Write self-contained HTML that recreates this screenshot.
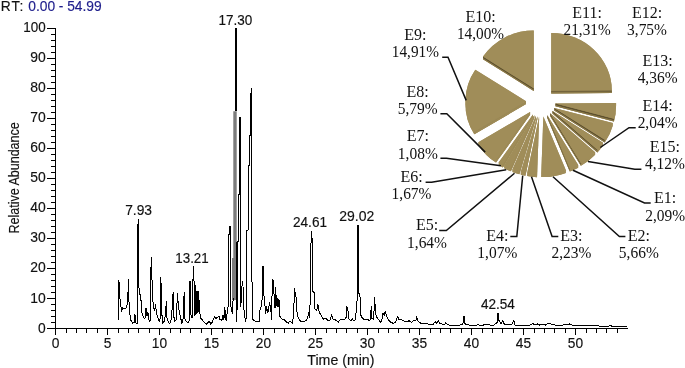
<!DOCTYPE html>
<html><head><meta charset="utf-8"><title>Chromatogram</title>
<style>
html,body{margin:0;padding:0;background:#fff;}
body{width:685px;height:368px;overflow:hidden;}
svg{display:block;}
.s{font-family:"Liberation Sans",sans-serif;font-size:13.8px;fill:#111;stroke:#111;stroke-width:0.15px;}
.t{font-family:"Liberation Serif",serif;font-size:16px;fill:#111;text-anchor:middle;}
</style></head><body>
<svg width="685" height="368" viewBox="0 0 685 368">
<rect width="685" height="368" fill="#fff"/>

<g stroke="#000" stroke-width="1" fill="none" shape-rendering="crispEdges">
<path d="M55.5,28 V328.5 H628"/>
<path d="M47,328.5 H55.5 M51,322.5 H55.5 M51,316.5 H55.5 M51,310.5 H55.5 M51,304.5 H55.5 M47,298.5 H55.5 M51,292.5 H55.5 M51,286.5 H55.5 M51,280.5 H55.5 M51,274.5 H55.5 M47,268.5 H55.5 M51,262.5 H55.5 M51,256.5 H55.5 M51,250.5 H55.5 M51,244.5 H55.5 M47,238.5 H55.5 M51,232.5 H55.5 M51,226.5 H55.5 M51,220.5 H55.5 M51,214.5 H55.5 M47,208.5 H55.5 M51,202.5 H55.5 M51,196.5 H55.5 M51,190.5 H55.5 M51,184.5 H55.5 M47,178.5 H55.5 M51,172.5 H55.5 M51,166.5 H55.5 M51,160.5 H55.5 M51,154.5 H55.5 M47,148.5 H55.5 M51,142.5 H55.5 M51,136.5 H55.5 M51,130.5 H55.5 M51,124.5 H55.5 M47,118.5 H55.5 M51,112.5 H55.5 M51,106.5 H55.5 M51,100.5 H55.5 M51,94.5 H55.5 M47,88.5 H55.5 M51,82.5 H55.5 M51,76.5 H55.5 M51,70.5 H55.5 M51,64.5 H55.5 M47,58.5 H55.5 M51,52.5 H55.5 M51,46.5 H55.5 M51,40.5 H55.5 M51,34.5 H55.5 M47,28.5 H55.5"/>
<path d="M55.5,328.5 V335 M66.5,328.5 V333 M76.5,328.5 V333 M86.5,328.5 V333 M97.5,328.5 V333 M107.5,328.5 V335 M118.5,328.5 V333 M128.5,328.5 V333 M138.5,328.5 V333 M149.5,328.5 V333 M159.5,328.5 V335 M170.5,328.5 V333 M180.5,328.5 V333 M190.5,328.5 V333 M201.5,328.5 V333 M211.5,328.5 V335 M222.5,328.5 V333 M232.5,328.5 V333 M242.5,328.5 V333 M253.5,328.5 V333 M263.5,328.5 V335 M274.5,328.5 V333 M284.5,328.5 V333 M294.5,328.5 V333 M305.5,328.5 V333 M315.5,328.5 V335 M326.5,328.5 V333 M336.5,328.5 V333 M346.5,328.5 V333 M357.5,328.5 V333 M367.5,328.5 V335 M378.5,328.5 V333 M388.5,328.5 V333 M398.5,328.5 V333 M409.5,328.5 V333 M419.5,328.5 V335 M430.5,328.5 V333 M440.5,328.5 V333 M450.5,328.5 V333 M461.5,328.5 V333 M471.5,328.5 V335 M482.5,328.5 V333 M492.5,328.5 V333 M502.5,328.5 V333 M513.5,328.5 V333 M523.5,328.5 V335 M534.5,328.5 V333 M544.5,328.5 V333 M554.5,328.5 V333 M565.5,328.5 V333 M575.5,328.5 V335 M586.5,328.5 V333 M596.5,328.5 V333 M606.5,328.5 V333 M617.5,328.5 V333"/>
</g>
<path d="M233.3,111.3 H236.7 V300 H232 V258 H233.3 Z" fill="#7c7c7c"/>
<g fill="none" stroke="#000" stroke-width="1" stroke-linejoin="miter" shape-rendering="crispEdges">
<polyline points="118.9,320.2 118.9,280.0 119.8,297.5 120.8,303.8 121.4,312.0 122.7,307.6 124.5,308.9 126.4,307.6 127.7,302.6 128.4,279.0 128.9,300.0 129.6,312.0 130.8,320.2 132.7,323.3 134.0,322.7 135.0,314.5 135.6,322.7 136.9,323.9 137.7,321.4 137.5,225.0 138.4,224.0 138.5,218.6 138.6,285.0 139.6,292.5 140.9,298.8 141.8,312.6 143.4,317.0 144.9,318.9 146.1,307.6 146.9,316.4 147.8,312.0 149.0,320.0 150.0,321.4 151.2,257.0 152.4,291.3 153.4,308.2 154.7,310.0 155.6,303.8 156.2,312.0 157.8,317.6 159.1,321.4 160.1,318.9 160.9,277.0 161.3,297.5 162.2,320.0 162.8,322.7 164.7,320.8 165.7,310.0 166.4,301.3 167.0,317.6 168.5,322.7 169.7,323.9 171.0,320.0 172.0,310.0 173.1,292.5 173.8,316.4 174.8,321.4 176.0,320.0 176.7,310.0 177.5,293.2 178.5,307.6 179.8,313.9 181.7,322.7 182.9,321.4 184.2,292.5 185.0,318.9 186.7,322.0 188.6,322.7 189.4,318.9 190.0,280.8 191.1,318.0 192.5,317.2 193.2,266.0 194.1,282.4 194.6,316.0 195.1,285.0 195.6,315.0 196.1,290.7 196.6,314.0 197.1,290.7 197.6,313.0 198.1,290.7 198.5,312.0 198.9,296.5 199.3,311.0 199.9,313.0 200.7,318.0 202.4,319.7 204.0,322.2 206.5,323.9 208.2,322.2 209.5,321.4 210.7,323.9 212.3,322.2 213.5,318.9 214.8,316.4 216.2,318.9 217.3,317.2 219.0,316.4 220.1,319.7 221.8,320.5 223.1,314.7 223.9,319.7 224.8,307.3 225.6,318.0 226.4,321.4 227.3,309.8 228.2,306.5 228.2,234.6 229.5,234.6 229.5,226.4 230.5,226.4 230.5,306.5 231.4,308.0 232.2,313.7 233.1,300.0 233.5,298.0"/>
<polyline points="235.5,111.3 235.5,28.9 236.5,28.9 236.5,111.3"/>
<polyline points="236.5,242.0 236.5,321.5 237.5,300.0 237.5,242.0 238.5,241.0 238.5,194.5 239.5,194.5 239.5,117.5 240.5,117.5 240.5,306.5 241.5,300.0 242.2,281.0 243.0,286.0 243.4,301.3 244.4,315.8 246.0,321.5 247.0,230.5 248.5,229.5 248.5,165.8 249.5,165.8 249.5,135.0 250.5,135.0 250.5,93.0 251.5,93.0 251.5,87.8 251.6,200.0 252.2,318.9 254.7,320.9 257.3,322.0 259.2,321.5 259.6,311.6 260.9,307.5 262.5,296.2 263.0,265.9 264.0,296.2 265.1,306.5 265.6,313.7 266.6,306.5 267.7,313.2 268.7,308.6 269.5,302.4 270.8,309.6 271.6,319.9 272.3,278.8 273.6,282.0 274.2,300.0 275.0,308.3 275.8,287.5 276.3,306.0 276.8,296.0 277.3,306.5 277.8,298.0 278.3,306.5 278.8,299.0 279.3,306.0 279.7,300.0 280.0,316.6 282.5,319.9 284.1,319.1 285.8,321.6 288.3,323.3 290.0,320.8 292.5,323.3 293.6,313.3 294.6,288.3 295.3,295.0 295.9,294.1 296.6,310.0 298.3,318.3 300.8,321.6 304.1,321.6 306.6,320.0 308.3,315.0 309.1,311.6 309.6,318.3 310.5,290.0 310.6,244.0 311.4,242.0 311.5,230.7 312.4,243.0 312.5,285.0 312.9,291.6 314.1,292.5 314.6,308.3 316.6,310.8 317.9,304.1 319.1,311.6 320.8,315.0 323.3,319.1 325.7,318.3 327.4,320.0 329.9,320.0 331.6,315.0 332.9,319.1 335.7,320.0 338.2,322.4 340.7,319.1 343.2,320.0 344.9,319.1 346.2,317.4 346.9,307.4 347.9,309.1 348.5,318.3 350.7,320.8 352.4,319.1 354.0,320.8 355.7,319.1 356.5,303.3 357.4,300.0 357.5,225.2 358.4,226.0 358.5,293.0 359.9,294.1 360.7,314.9 362.4,318.3 364.9,320.0 367.4,319.1 369.5,320.8 370.7,318.3 371.2,305.8 372.0,318.3 373.2,319.1 374.0,311.6 374.5,297.5 375.3,308.3 376.2,316.6 378.2,319.1 380.7,322.4 382.3,318.3 383.0,313.3 384.2,315.0 385.3,310.8 386.7,316.6 388.3,320.0 390.8,322.4 393.3,323.3 395.8,322.4 396.6,318.3 398.0,316.6 399.1,320.0 400.8,319.1 403.3,320.8 406.6,321.6 409.1,320.8 411.3,322.4 413.3,320.8 415.8,320.8 416.6,317.5 417.9,320.8 420.8,323.3 426.6,323.3 428.3,324.1 433.3,324.1 435.3,321.6 436.6,323.3 438.2,320.8 439.9,323.3 444.1,324.9 445.7,322.9 447.4,324.1 449.1,325.3 459.9,325.3 461.5,324.1 462.9,324.5 463.4,316.0 464.3,316.0 464.6,323.3 466.5,324.9 476.5,325.3 478.2,324.6 479.9,325.3 484.8,324.9 486.5,324.1 488.2,324.9 494.0,325.3 495.2,323.9 497.2,322.5 497.5,313.0 498.4,313.0 498.6,320.0 499.6,321.5 501.0,323.9 502.9,320.8 504.5,324.6 511.5,324.6 512.7,322.7 513.9,320.4 515.0,325.0 530.2,325.0 532.6,323.4 534.9,325.0 537.2,323.9 539.6,325.0 541.9,324.1 545.4,325.0 547.7,323.4 551.2,324.1 554.7,325.0 562.9,325.0 565.3,324.1 567.6,324.6 569.9,323.9 572.3,325.0 596.8,325.0 599.1,326.2 608.5,326.2 610.3,325.5 612.0,326.2 627.0,326.2"/>
</g>
<text class="s" x="45.7" y="332.5" text-anchor="end">0</text>
<text class="s" x="45.7" y="302.5" text-anchor="end" textLength="15.5" lengthAdjust="spacingAndGlyphs">10</text>
<text class="s" x="45.7" y="272.4" text-anchor="end" textLength="15.5" lengthAdjust="spacingAndGlyphs">20</text>
<text class="s" x="45.7" y="242.4" text-anchor="end" textLength="15.5" lengthAdjust="spacingAndGlyphs">30</text>
<text class="s" x="45.7" y="212.3" text-anchor="end" textLength="15.5" lengthAdjust="spacingAndGlyphs">40</text>
<text class="s" x="45.7" y="182.3" text-anchor="end" textLength="15.5" lengthAdjust="spacingAndGlyphs">50</text>
<text class="s" x="45.7" y="152.3" text-anchor="end" textLength="15.5" lengthAdjust="spacingAndGlyphs">60</text>
<text class="s" x="45.7" y="122.2" text-anchor="end" textLength="15.5" lengthAdjust="spacingAndGlyphs">70</text>
<text class="s" x="45.7" y="92.2" text-anchor="end" textLength="15.5" lengthAdjust="spacingAndGlyphs">80</text>
<text class="s" x="45.7" y="62.1" text-anchor="end" textLength="15.5" lengthAdjust="spacingAndGlyphs">90</text>
<text class="s" x="45.7" y="32.1" text-anchor="end" textLength="22.4" lengthAdjust="spacingAndGlyphs">100</text>
<text class="s" x="55.5" y="348" text-anchor="middle">0</text>
<text class="s" x="107.5" y="348" text-anchor="middle">5</text>
<text class="s" x="159.5" y="348" text-anchor="middle" textLength="15.3" lengthAdjust="spacingAndGlyphs">10</text>
<text class="s" x="211.5" y="348" text-anchor="middle" textLength="15.3" lengthAdjust="spacingAndGlyphs">15</text>
<text class="s" x="263.5" y="348" text-anchor="middle" textLength="15.3" lengthAdjust="spacingAndGlyphs">20</text>
<text class="s" x="315.5" y="348" text-anchor="middle" textLength="15.3" lengthAdjust="spacingAndGlyphs">25</text>
<text class="s" x="367.5" y="348" text-anchor="middle" textLength="15.3" lengthAdjust="spacingAndGlyphs">30</text>
<text class="s" x="419.5" y="348" text-anchor="middle" textLength="15.3" lengthAdjust="spacingAndGlyphs">35</text>
<text class="s" x="471.5" y="348" text-anchor="middle" textLength="15.3" lengthAdjust="spacingAndGlyphs">40</text>
<text class="s" x="523.5" y="348" text-anchor="middle" textLength="15.3" lengthAdjust="spacingAndGlyphs">45</text>
<text class="s" x="575.5" y="348" text-anchor="middle" textLength="15.3" lengthAdjust="spacingAndGlyphs">50</text>
<text class="s" x="340.9" y="364.5" text-anchor="middle" textLength="67.1" lengthAdjust="spacingAndGlyphs">Time (min)</text>
<text class="s" transform="translate(18.6,177.9) rotate(-90)" text-anchor="middle" textLength="111.3" lengthAdjust="spacingAndGlyphs">Relative Abundance</text>
<text class="s" x="0.7" y="10.6" textLength="22.6" lengthAdjust="spacing">RT:</text>
<text class="s" x="28.3" y="10.6" style="fill:#1e1e8c;stroke:#1e1e8c" textLength="73.3" lengthAdjust="spacing">0.00 - 54.99</text>
<text class="s" x="235.4" y="25.4" text-anchor="middle" textLength="33.8" lengthAdjust="spacingAndGlyphs">17.30</text>
<text class="s" x="138.6" y="215" text-anchor="middle" textLength="26.9" lengthAdjust="spacingAndGlyphs">7.93</text>
<text class="s" x="192.0" y="263.2" text-anchor="middle" textLength="33.4" lengthAdjust="spacingAndGlyphs">13.21</text>
<text class="s" x="310" y="227.4" text-anchor="middle" textLength="34" lengthAdjust="spacingAndGlyphs">24.61</text>
<text class="s" x="356.8" y="221.2" text-anchor="middle" textLength="35" lengthAdjust="spacingAndGlyphs">29.02</text>
<text class="s" x="497.9" y="308.7" text-anchor="middle" textLength="34" lengthAdjust="spacingAndGlyphs">42.54</text>
<g>
<path d="M551.22,90.80 L551.22,33.00 A60.6,57.8 0 0 1 611.82,90.30 Z" transform="translate(0,2.7)" fill="#a08d59"/>
<path d="M551.22,90.80 L551.22,33.00 L551.22,35.70 L551.22,93.50 Z" fill="#a08d59"/>
<path d="M551.22,90.80 L611.82,90.30 L611.82,93.00 L551.22,93.50 Z" fill="#a08d59"/>
<path d="M551.22,33.00 A60.6,57.8 0 0 1 611.82,90.30 L611.82,93.00 A60.6,57.8 0 0 0 551.22,35.70 Z" fill="#a08d59"/>
<path d="M555.48,103.55 L616.08,103.04 A60.6,57.8 0 0 1 613.95,118.75 Z" transform="translate(0,2.7)" fill="#a08d59"/>
<path d="M555.48,103.55 L616.08,103.04 L616.08,105.74 L555.48,106.25 Z" fill="#a08d59"/>
<path d="M555.48,103.55 L613.95,118.75 L613.95,121.45 L555.48,106.25 Z" fill="#a08d59"/>
<path d="M616.08,103.04 A60.6,57.8 0 0 1 613.95,118.75 L613.95,121.45 A60.6,57.8 0 0 0 616.08,105.74 Z" fill="#a08d59"/>
<path d="M554.28,107.88 L612.75,123.08 A60.6,57.8 0 0 1 604.78,139.83 Z" transform="translate(0,2.7)" fill="#a08d59"/>
<path d="M554.28,107.88 L612.75,123.08 L612.75,125.78 L554.28,110.58 Z" fill="#a08d59"/>
<path d="M554.28,107.88 L604.78,139.83 L604.78,142.53 L554.28,110.58 Z" fill="#a08d59"/>
<path d="M612.75,123.08 A60.6,57.8 0 0 1 604.78,139.83 L604.78,142.53 A60.6,57.8 0 0 0 612.75,125.78 Z" fill="#a08d59"/>
<path d="M552.49,110.92 L602.99,142.87 A60.6,57.8 0 0 1 597.44,149.69 Z" transform="translate(0,2.7)" fill="#a08d59"/>
<path d="M552.49,110.92 L602.99,142.87 L602.99,145.57 L552.49,113.62 Z" fill="#a08d59"/>
<path d="M552.49,110.92 L597.44,149.69 L597.44,152.39 L552.49,113.62 Z" fill="#a08d59"/>
<path d="M602.99,142.87 A60.6,57.8 0 0 1 597.44,149.69 L597.44,152.39 A60.6,57.8 0 0 0 602.99,145.57 Z" fill="#a08d59"/>
<path d="M550.16,113.37 L595.11,152.14 A60.6,57.8 0 0 1 580.98,163.14 Z" transform="translate(0,2.7)" fill="#a08d59"/>
<path d="M550.16,113.37 L595.11,152.14 L595.11,154.84 L550.16,116.07 Z" fill="#a08d59"/>
<path d="M550.16,113.37 L580.98,163.14 L580.98,165.84 L550.16,116.07 Z" fill="#a08d59"/>
<path d="M595.11,152.14 A60.6,57.8 0 0 1 580.98,163.14 L580.98,165.84 A60.6,57.8 0 0 0 595.11,154.84 Z" fill="#a08d59"/>
<path d="M547.33,115.24 L578.16,165.00 A60.6,57.8 0 0 1 569.83,168.91 Z" transform="translate(0,2.7)" fill="#a08d59"/>
<path d="M547.33,115.24 L578.16,165.00 L578.16,167.70 L547.33,117.94 Z" fill="#a08d59"/>
<path d="M547.33,115.24 L569.83,168.91 L569.83,171.61 L547.33,117.94 Z" fill="#a08d59"/>
<path d="M578.16,165.00 A60.6,57.8 0 0 1 569.83,168.91 L569.83,171.61 A60.6,57.8 0 0 0 578.16,167.70 Z" fill="#a08d59"/>
<path d="M543.35,116.57 L565.85,170.24 A60.6,57.8 0 0 1 541.26,174.34 Z" transform="translate(0,2.7)" fill="#a08d59"/>
<path d="M543.35,116.57 L565.85,170.24 L565.85,172.94 L543.35,119.27 Z" fill="#a08d59"/>
<path d="M543.35,116.57 L541.26,174.34 L541.26,177.04 L543.35,119.27 Z" fill="#a08d59"/>
<path d="M565.85,170.24 A60.6,57.8 0 0 1 541.26,174.34 L541.26,177.04 A60.6,57.8 0 0 0 565.85,172.94 Z" fill="#a08d59"/>
<path d="M539.08,116.70 L537.00,174.46 A60.6,57.8 0 0 1 527.17,173.37 Z" transform="translate(0,2.7)" fill="#a08d59"/>
<path d="M539.08,116.70 L537.00,174.46 L537.00,177.16 L539.08,119.40 Z" fill="#a08d59"/>
<path d="M539.08,116.70 L527.17,173.37 L527.17,176.07 L539.08,119.40 Z" fill="#a08d59"/>
<path d="M537.00,174.46 A60.6,57.8 0 0 1 527.17,173.37 L527.17,176.07 A60.6,57.8 0 0 0 537.00,177.16 Z" fill="#a08d59"/>
<path d="M537.32,116.37 L525.41,173.05 A60.6,57.8 0 0 1 520.79,171.98 Z" transform="translate(0,2.7)" fill="#a08d59"/>
<path d="M537.32,116.37 L525.41,173.05 L525.41,175.75 L537.32,119.07 Z" fill="#a08d59"/>
<path d="M537.32,116.37 L520.79,171.98 L520.79,174.68 L537.32,119.07 Z" fill="#a08d59"/>
<path d="M525.41,173.05 A60.6,57.8 0 0 1 520.79,171.98 L520.79,174.68 A60.6,57.8 0 0 0 525.41,175.75 Z" fill="#a08d59"/>
<path d="M535.91,115.95 L519.38,171.55 A60.6,57.8 0 0 1 512.51,169.26 Z" transform="translate(0,2.7)" fill="#a08d59"/>
<path d="M535.91,115.95 L519.38,171.55 L519.38,174.25 L535.91,118.65 Z" fill="#a08d59"/>
<path d="M535.91,115.95 L512.51,169.26 L512.51,171.96 L535.91,118.65 Z" fill="#a08d59"/>
<path d="M519.38,171.55 A60.6,57.8 0 0 1 512.51,169.26 L512.51,171.96 A60.6,57.8 0 0 0 519.38,174.25 Z" fill="#a08d59"/>
<path d="M534.26,115.24 L510.85,168.55 A60.6,57.8 0 0 1 504.20,165.43 Z" transform="translate(0,2.7)" fill="#a08d59"/>
<path d="M534.26,115.24 L510.85,168.55 L510.85,171.25 L534.26,117.94 Z" fill="#a08d59"/>
<path d="M534.26,115.24 L504.20,165.43 L504.20,168.13 L534.26,117.94 Z" fill="#a08d59"/>
<path d="M510.85,168.55 A60.6,57.8 0 0 1 504.20,165.43 L504.20,168.13 A60.6,57.8 0 0 0 510.85,171.25 Z" fill="#a08d59"/>
<path d="M532.96,114.49 L502.90,164.68 A60.6,57.8 0 0 1 498.83,162.26 Z" transform="translate(0,2.7)" fill="#a08d59"/>
<path d="M532.96,114.49 L502.90,164.68 L502.90,167.38 L532.96,117.19 Z" fill="#a08d59"/>
<path d="M532.96,114.49 L498.83,162.26 L498.83,164.96 L532.96,117.19 Z" fill="#a08d59"/>
<path d="M502.90,164.68 A60.6,57.8 0 0 1 498.83,162.26 L498.83,164.96 A60.6,57.8 0 0 0 502.90,167.38 Z" fill="#a08d59"/>
<path d="M530.08,112.08 L495.95,159.84 A60.6,57.8 0 0 1 478.36,142.20 Z" transform="translate(0,2.7)" fill="#a08d59"/>
<path d="M530.08,112.08 L495.95,159.84 L495.95,162.54 L530.08,114.78 Z" fill="#a08d59"/>
<path d="M530.08,112.08 L478.36,142.20 L478.36,144.90 L530.08,114.78 Z" fill="#a08d59"/>
<path d="M495.95,159.84 A60.6,57.8 0 0 1 478.36,142.20 L478.36,144.90 A60.6,57.8 0 0 0 495.95,162.54 Z" fill="#a08d59"/>
<path d="M526.00,101.36 L474.28,131.49 A60.6,57.8 0 0 1 475.30,69.71 Z" transform="translate(0,2.7)" fill="#a08d59"/>
<path d="M526.00,101.36 L474.28,131.49 L474.28,134.19 L526.00,104.06 Z" fill="#a08d59"/>
<path d="M526.00,101.36 L475.30,69.71 L475.30,72.41 L526.00,104.06 Z" fill="#a08d59"/>
<path d="M474.28,131.49 A60.6,57.8 0 0 1 475.30,69.71 L475.30,72.41 A60.6,57.8 0 0 0 474.28,134.19 Z" fill="#a08d59"/>
<path d="M533.76,88.23 L483.06,56.58 A60.6,57.8 0 0 1 533.76,30.43 Z" transform="translate(0,2.7)" fill="#a08d59"/>
<path d="M533.76,88.23 L483.06,56.58 L483.06,59.28 L533.76,90.93 Z" fill="#a08d59"/>
<path d="M533.76,88.23 L533.76,30.43 L533.76,33.13 L533.76,90.93 Z" fill="#a08d59"/>
<path d="M483.06,56.58 A60.6,57.8 0 0 1 533.76,30.43 L533.76,33.13 A60.6,57.8 0 0 0 483.06,59.28 Z" fill="#a08d59"/>
<path d="M551.22,90.80 L611.82,90.30 L611.82,91.95 L551.22,92.45 Z" fill="#73643c"/>
<path d="M551.22,92.40 L611.82,91.90 L611.82,93.00 L551.22,93.50 Z" fill="#8e7d4d"/>
<path d="M555.48,103.55 L613.95,118.75 L613.95,120.40 L555.48,105.20 Z" fill="#5e512f"/>
<path d="M555.48,105.15 L613.95,120.35 L613.95,121.45 L555.48,106.25 Z" fill="#867547"/>
<path d="M554.28,107.88 L604.78,139.83 L604.78,141.48 L554.28,109.53 Z" fill="#5e512f"/>
<path d="M554.28,109.48 L604.78,141.43 L604.78,142.53 L554.28,110.58 Z" fill="#867547"/>
<path d="M552.49,110.92 L597.44,149.69 L597.44,151.34 L552.49,112.57 Z" fill="#5e512f"/>
<path d="M552.49,112.52 L597.44,151.29 L597.44,152.39 L552.49,113.62 Z" fill="#867547"/>
<path d="M550.16,113.37 L580.98,163.14 L580.98,164.79 L550.16,115.02 Z" fill="#5e512f"/>
<path d="M550.16,114.97 L580.98,164.74 L580.98,165.84 L550.16,116.07 Z" fill="#867547"/>
<path d="M547.33,115.24 L569.83,168.91 L569.83,170.56 L547.33,116.89 Z" fill="#5e512f"/>
<path d="M547.33,116.84 L569.83,170.51 L569.83,171.61 L547.33,117.94 Z" fill="#867547"/>
<path d="M539.08,116.70 L537.00,174.46 L537.00,176.11 L539.08,118.35 Z" fill="#9b8956"/>
<path d="M539.08,118.30 L537.00,176.06 L537.00,177.16 L539.08,119.40 Z" fill="#9e8b58"/>
<path d="M537.32,116.37 L525.41,173.05 L525.41,174.70 L537.32,118.02 Z" fill="#9b8956"/>
<path d="M537.32,117.97 L525.41,174.65 L525.41,175.75 L537.32,119.07 Z" fill="#9e8b58"/>
<path d="M535.91,115.95 L519.38,171.55 L519.38,173.20 L535.91,117.60 Z" fill="#9b8956"/>
<path d="M535.91,117.55 L519.38,173.15 L519.38,174.25 L535.91,118.65 Z" fill="#9e8b58"/>
<path d="M534.26,115.24 L510.85,168.55 L510.85,170.20 L534.26,116.89 Z" fill="#9b8956"/>
<path d="M534.26,116.84 L510.85,170.15 L510.85,171.25 L534.26,117.94 Z" fill="#9e8b58"/>
<path d="M532.96,114.49 L502.90,164.68 L502.90,166.33 L532.96,116.14 Z" fill="#9b8956"/>
<path d="M532.96,116.09 L502.90,166.28 L502.90,167.38 L532.96,117.19 Z" fill="#9e8b58"/>
<path d="M530.08,112.08 L495.95,159.84 L495.95,161.49 L530.08,113.73 Z" fill="#9b8956"/>
<path d="M530.08,113.68 L495.95,161.44 L495.95,162.54 L530.08,114.78 Z" fill="#9e8b58"/>
<path d="M526.00,101.36 L474.28,131.49 L474.28,133.14 L526.00,103.01 Z" fill="#9b8956"/>
<path d="M526.00,102.96 L474.28,133.09 L474.28,134.19 L526.00,104.06 Z" fill="#9e8b58"/>
<path d="M533.76,88.23 L483.06,56.58 L483.06,58.23 L533.76,89.88 Z" fill="#5e512f"/>
<path d="M533.76,89.83 L483.06,58.18 L483.06,59.28 L533.76,90.93 Z" fill="#867547"/>
<path d="M551.22,90.80 L551.22,33.00 A60.6,57.8 0 0 1 611.82,90.30 Z" fill="#a08d59"/>
<path d="M555.48,103.55 L616.08,103.04 A60.6,57.8 0 0 1 613.95,118.75 Z" fill="#a08d59"/>
<path d="M554.28,107.88 L612.75,123.08 A60.6,57.8 0 0 1 604.78,139.83 Z" fill="#a08d59"/>
<path d="M552.49,110.92 L602.99,142.87 A60.6,57.8 0 0 1 597.44,149.69 Z" fill="#a08d59"/>
<path d="M550.16,113.37 L595.11,152.14 A60.6,57.8 0 0 1 580.98,163.14 Z" fill="#a08d59"/>
<path d="M547.33,115.24 L578.16,165.00 A60.6,57.8 0 0 1 569.83,168.91 Z" fill="#a08d59"/>
<path d="M543.35,116.57 L565.85,170.24 A60.6,57.8 0 0 1 541.26,174.34 Z" fill="#a08d59"/>
<path d="M539.08,116.70 L537.00,174.46 A60.6,57.8 0 0 1 527.17,173.37 Z" fill="#a08d59"/>
<path d="M537.32,116.37 L525.41,173.05 A60.6,57.8 0 0 1 520.79,171.98 Z" fill="#a08d59"/>
<path d="M535.91,115.95 L519.38,171.55 A60.6,57.8 0 0 1 512.51,169.26 Z" fill="#a08d59"/>
<path d="M534.26,115.24 L510.85,168.55 A60.6,57.8 0 0 1 504.20,165.43 Z" fill="#a08d59"/>
<path d="M532.96,114.49 L502.90,164.68 A60.6,57.8 0 0 1 498.83,162.26 Z" fill="#a08d59"/>
<path d="M530.08,112.08 L495.95,159.84 A60.6,57.8 0 0 1 478.36,142.20 Z" fill="#a08d59"/>
<path d="M526.00,101.36 L474.28,131.49 A60.6,57.8 0 0 1 475.30,69.71 Z" fill="#a08d59"/>
<path d="M533.76,88.23 L483.06,56.58 A60.6,57.8 0 0 1 533.76,30.43 Z" fill="#a08d59"/>
</g>
<g stroke="#111" stroke-width="1.5" fill="none" stroke-linejoin="miter">
<polyline points="442.2,57.3 448,57.3 466.2,100.4"/>
<polyline points="440.4,113.7 446.8,113.7 485.2,152.1"/>
<polyline points="440.4,158.3 446.5,158.3 500.9,165.7"/>
<polyline points="425.6,182.2 431.6,182.2 506.2,169.7"/>
<polyline points="439.2,230.6 446.3,230.6 514.5,173.3"/>
<polyline points="510.3,236.6 516.8,236.6 522.7,175.6"/>
<polyline points="558.3,236.6 552.1,236.6 531.5,176.8"/>
<polyline points="625.4,236.6 619.4,236.6 553,176.8"/>
<polyline points="650.7,203 644.5,203 573,170.3"/>
<polyline points="641.4,169.2 634.8,169.2 588,161.4"/>
<polyline points="635.7,127.7 629,127.7 600.3,147.5"/>
</g>
<text class="t" x="587.1" y="17.7">E11:</text><text class="t" x="587.1" y="35.2" textLength="47.1" lengthAdjust="spacingAndGlyphs">21,31%</text>
<text class="t" x="647.0" y="17.7">E12:</text><text class="t" x="647.0" y="35.2" textLength="39.9" lengthAdjust="spacingAndGlyphs">3,75%</text>
<text class="t" x="657.6" y="65.9">E13:</text><text class="t" x="657.6" y="83.4" textLength="39.9" lengthAdjust="spacingAndGlyphs">4,36%</text>
<text class="t" x="657.6" y="110.5">E14:</text><text class="t" x="657.6" y="128.0" textLength="39.9" lengthAdjust="spacingAndGlyphs">2,04%</text>
<text class="t" x="664.9" y="151.5">E15:</text><text class="t" x="664.9" y="169.0" textLength="39.9" lengthAdjust="spacingAndGlyphs">4,12%</text>
<text class="t" x="665.2" y="203.2">E1:</text><text class="t" x="665.2" y="220.7" textLength="39.9" lengthAdjust="spacingAndGlyphs">2,09%</text>
<text class="t" x="638.8" y="240.5">E2:</text><text class="t" x="638.8" y="258.0" textLength="39.9" lengthAdjust="spacingAndGlyphs">5,66%</text>
<text class="t" x="571.4" y="240.5">E3:</text><text class="t" x="571.4" y="258.0" textLength="39.9" lengthAdjust="spacingAndGlyphs">2,23%</text>
<text class="t" x="497.3" y="240.5">E4:</text><text class="t" x="497.3" y="258.0" textLength="39.9" lengthAdjust="spacingAndGlyphs">1,07%</text>
<text class="t" x="427" y="230.4">E5:</text><text class="t" x="427" y="247.9" textLength="39.9" lengthAdjust="spacingAndGlyphs">1,64%</text>
<text class="t" x="411.5" y="181.9">E6:</text><text class="t" x="411.5" y="199.4" textLength="39.9" lengthAdjust="spacingAndGlyphs">1,67%</text>
<text class="t" x="417.8" y="141">E7:</text><text class="t" x="417.8" y="158.5" textLength="39.9" lengthAdjust="spacingAndGlyphs">1,08%</text>
<text class="t" x="417.7" y="96.8">E8:</text><text class="t" x="417.7" y="114.3" textLength="39.9" lengthAdjust="spacingAndGlyphs">5,79%</text>
<text class="t" x="415.4" y="39.8">E9:</text><text class="t" x="415.4" y="57.3" textLength="47.1" lengthAdjust="spacingAndGlyphs">14,91%</text>
<text class="t" x="480.5" y="21.6">E10:</text><text class="t" x="480.5" y="39.1" textLength="47.1" lengthAdjust="spacingAndGlyphs">14,00%</text>
</svg></body></html>
